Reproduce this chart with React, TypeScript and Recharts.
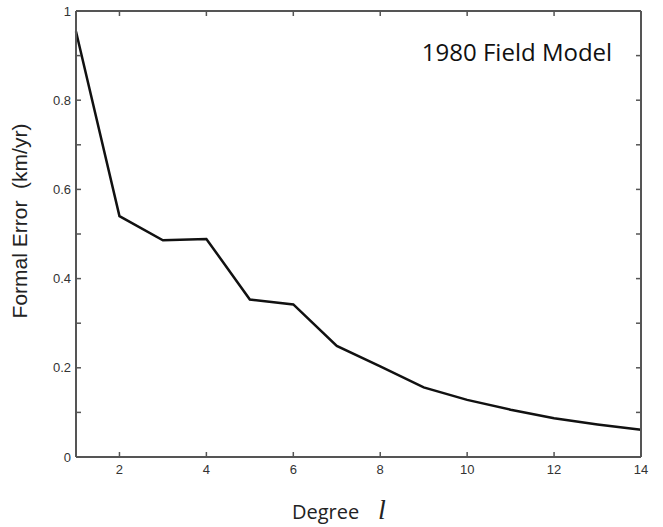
import React from "react";
import { LineChart, Line, XAxis, YAxis } from "recharts";

const degrees = [1, 2, 3, 4, 5, 6, 7, 8, 9, 10, 11, 12, 13, 14];
const formalError = [0.954, 0.54, 0.486, 0.489, 0.353, 0.342, 0.249, 0.203, 0.156, 0.128, 0.106, 0.087, 0.073, 0.061];
const xTicks = [2, 4, 6, 8, 10, 12, 14];
const yTicks = [0, 0.1, 0.2, 0.3, 0.4, 0.5, 0.6, 0.7, 0.8, 0.9, 1];
const yLabels = ["0", "", "0.2", "", "0.4", "", "0.6", "", "0.8", "", "1"];
const title = "1980 Field Model";
const xTitle = "Degree";
const xSymbol = "l";
const yTitle = "Formal Error  (km/yr)";

const data = degrees.map((d, i) => ({ degree: d, err: formalError[i] }));

const CHART_W = 663;
const CHART_H = 527;
const MARGIN = { top: 11, right: 21, bottom: 0, left: 0 };
const LEFT_W = 76;
const RIGHT_W = 1;
const PLOT_W = CHART_W - MARGIN.left - MARGIN.right - LEFT_W - RIGHT_W;

const AXIS = "#555";
const TICK_FONT = "'Liberation Sans', Arial, sans-serif";
const blank = () => "";

const BottomTick = (props: any) => {
  const { x, y, payload } = props;
  return (
    <g>
      <line x1={x} y1={y} x2={x} y2={y - 5} stroke={AXIS} strokeWidth={1.5} />
      <text x={x} y={y + 17} textAnchor="middle" fontSize={13} fill="#333" fontFamily={TICK_FONT}>
        {payload.value}
      </text>
    </g>
  );
};

const LeftTick = (props: any) => {
  const { x, y, payload } = props;
  const idx = yTicks.indexOf(payload.value);
  const label = idx >= 0 ? yLabels[idx] : "";
  return (
    <g>
      <line x1={x} y1={y} x2={x + 5} y2={y} stroke={AXIS} strokeWidth={1.5} />
      <line x1={x + PLOT_W} y1={y} x2={x + PLOT_W - 5} y2={y} stroke={AXIS} strokeWidth={1.5} />
      {label !== "" && (
        <text x={x - 5} y={y + 4.5} textAnchor="end" fontSize={13} fill="#333" fontFamily={TICK_FONT}>
          {label}
        </text>
      )}
    </g>
  );
};

export default function App() {
  return (
    <div style={{ position: "absolute", left: 0, top: 0, width: CHART_W, height: CHART_H, background: "#fff" }}>
      <LineChart width={CHART_W} height={CHART_H} data={data} margin={MARGIN}>
        <XAxis
          xAxisId="bottom"
          dataKey="degree"
          type="number"
          domain={[1, 14]}
          ticks={xTicks}
          orientation="bottom"
          height={70}
          tickSize={0}
          tickMargin={0}
          tickLine={false}
          axisLine={{ stroke: AXIS, strokeWidth: 2 }}
          tick={<BottomTick />}
          interval={0}
        />
        <XAxis
          xAxisId="top"
          dataKey="degree"
          type="number"
          domain={[1, 14]}
          ticks={xTicks}
          orientation="top"
          height={1}
          mirror
          tickSize={5}
          tickFormatter={blank}
          tickLine={{ stroke: AXIS, strokeWidth: 1.5 }}
          axisLine={{ stroke: AXIS, strokeWidth: 2 }}
          interval={0}
        />
        <YAxis
          yAxisId="left"
          type="number"
          domain={[0, 1]}
          ticks={yTicks}
          orientation="left"
          width={LEFT_W}
          tickSize={0}
          tickMargin={0}
          tickLine={false}
          axisLine={{ stroke: AXIS, strokeWidth: 2 }}
          tick={<LeftTick />}
          interval={0}
        />
        <YAxis
          yAxisId="right"
          type="number"
          domain={[0, 1]}
          orientation="right"
          width={RIGHT_W}
          tick={false}
          tickLine={false}
          axisLine={{ stroke: AXIS, strokeWidth: 2 }}
        />
        <Line
          xAxisId="bottom"
          yAxisId="left"
          type="linear"
          dataKey="err"
          stroke="#111"
          strokeWidth={2.5}
          dot={false}
          isAnimationActive={false}
        />
      </LineChart>
      <svg width={CHART_W} height={CHART_H} style={{ position: "absolute", left: 0, top: 0, pointerEvents: "none" }}>
        <text x={517} y={61} textAnchor="middle" fontSize={24} fill="#111" fontFamily="'Open Sans', sans-serif">
          {title}
        </text>
        <text
          x={27}
          y={221}
          textAnchor="middle"
          fontSize={21}
          fill="#222"
          fontFamily={TICK_FONT}
          transform="rotate(-90 27 221)"
          style={{ whiteSpace: "pre" }}
        >
          {yTitle}
        </text>
        <text x={292} y={519} textAnchor="start" fontSize={20} fill="#222" fontFamily="'Open Sans', sans-serif">
          {xTitle}
        </text>
        <text x={382} y={519} textAnchor="middle" fontSize={28} fill="#222" fontStyle="italic" fontFamily="'Liberation Serif', serif">
          {xSymbol}
        </text>
      </svg>
    </div>
  );
}
